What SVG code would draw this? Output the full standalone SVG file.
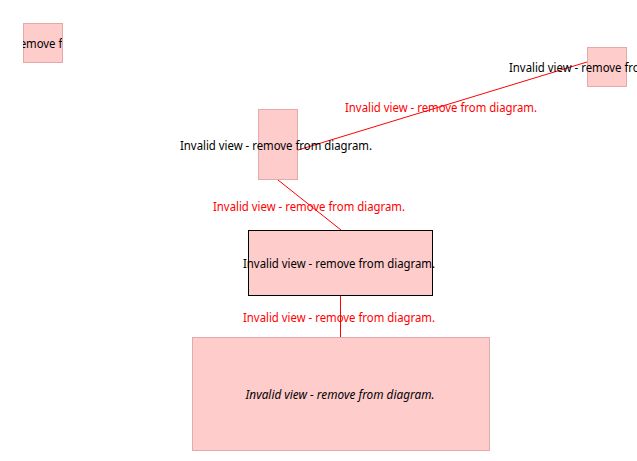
<svg xmlns="http://www.w3.org/2000/svg" width="637" height="461" viewBox="0 0 637 461">
<style>
.n{fill:#FFCCCC;stroke:#E3AAAA;stroke-width:1}
.sel{fill:#FFCCCC;stroke:#000;stroke-width:1}
.t{font-family:"Noto Sans","Open Sans",sans-serif;font-size:12px;fill:#000;text-anchor:middle}
.i{font-style:italic}
.e{stroke:#FF0000;stroke-width:1;fill:none}
.l{font-family:"Noto Sans","Open Sans",sans-serif;font-size:12px;fill:#FF0000;text-anchor:middle}
</style>
<defs>
<clipPath id="c1"><rect x="23" y="23" width="39" height="39"/></clipPath>
</defs>
<g id="edges">
<line class="e" x1="298" y1="150" x2="587" y2="62"/>
<line class="e" x1="278" y1="180" x2="341" y2="230"/>
<line class="e" x1="340.5" y1="295" x2="340.5" y2="337"/>
<text class="l" x="441" y="112" textLength="192" lengthAdjust="spacingAndGlyphs">Invalid view - remove from diagram.</text>
<text class="l" x="309" y="211" textLength="192" lengthAdjust="spacingAndGlyphs">Invalid view - remove from diagram.</text>
<text class="l" x="339" y="322" textLength="192" lengthAdjust="spacingAndGlyphs">Invalid view - remove from diagram.</text>
</g>
<g id="node1">
<rect class="n" x="23.5" y="23.5" width="39" height="39"/>
<g clip-path="url(#c1)"><text class="t" x="39" y="48" textLength="192" lengthAdjust="spacingAndGlyphs">Invalid view - remove from diagram.</text></g>
</g>
<g id="node2">
<rect class="n" x="587.5" y="47.5" width="39" height="39"/>
<text class="t" x="605" y="72" textLength="192" lengthAdjust="spacingAndGlyphs">Invalid view - remove from diagram.</text>
</g>
<g id="node3">
<rect class="n" x="258.5" y="109.5" width="39" height="70"/>
<text class="t" x="276" y="150" textLength="192" lengthAdjust="spacingAndGlyphs">Invalid view - remove from diagram.</text>
</g>
<g id="node4">
<rect class="sel" x="248.5" y="230.5" width="184" height="65"/>
<text class="t" x="339" y="268" textLength="192" lengthAdjust="spacingAndGlyphs">Invalid view - remove from diagram.</text>
</g>
<g id="node5">
<rect class="n" x="192.5" y="337.5" width="297" height="113"/>
<text class="t i" x="340" y="399" textLength="189" lengthAdjust="spacingAndGlyphs">Invalid view - remove from diagram.</text>
</g>
</svg>
